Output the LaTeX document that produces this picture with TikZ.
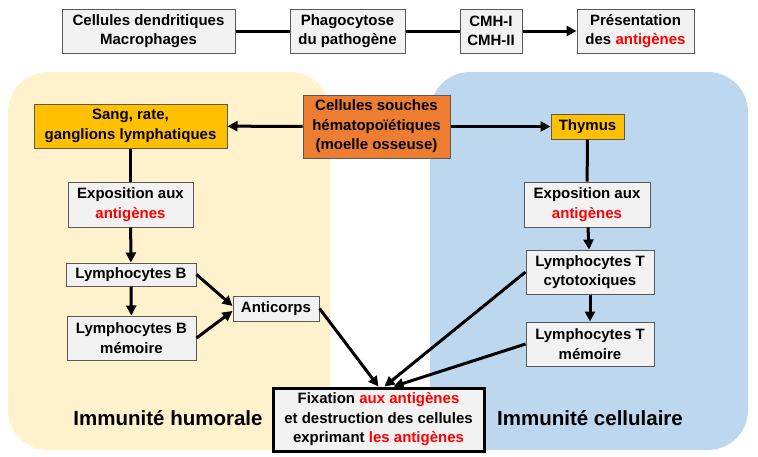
\documentclass[tikz,border=0pt]{standalone}
\usepackage{fontspec}
\setmainfont{Liberation Sans}
\usetikzlibrary{arrows.meta}
\definecolor{boxgrey}{HTML}{F2F2F2}
\definecolor{boxedge}{HTML}{595959}
\definecolor{organgold}{HTML}{FFC000}
\definecolor{stemorange}{HTML}{ED7D31}
\definecolor{humocream}{HTML}{FFF2CC}
\definecolor{cellblue}{HTML}{BDD7EE}
\definecolor{antired}{HTML}{FF0000}
\newcommand{\boxtext}{\fontsize{15}{19.5}\selectfont\bfseries}
\newcommand{\zonetext}{\fontsize{20.5}{24}\selectfont\bfseries}
\newcommand{\ag}[1]{\textcolor{antired}{#1}}

\begin{document}
\begin{tikzpicture}[x=1pt,y=-1pt,font=\boxtext,>={Triangle[length=10pt,width=10pt]},
  cellbox/.style={draw=boxedge,fill=boxgrey,line width=1pt,align=center,inner sep=0pt},
  organbox/.style={cellbox,fill=organgold},
  flow/.style={line width=3pt}]
\useasboundingbox (0,0) rectangle (758,456);

% zones
\fill[humocream,rounded corners=40pt] (8,72) rectangle (330,450);
\fill[cellblue,rounded corners=40pt] (430,72) rectangle (748,450);
\node (humo) at (168,418) {\zonetext Immunité humorale};
\node (cell) at (590,418) {\zonetext Immunité cellulaire};

% top row
\node[cellbox,minimum width=173pt,minimum height=44pt] (dc) at (148.5,31) {Cellules dendritiques\\Macrophages};
\node[cellbox,minimum width=115pt,minimum height=44pt] (phago) at (347.5,31) {Phagocytose\\du pathogène};
\node[cellbox,minimum width=62pt,minimum height=44pt] (cmh) at (491,31) {CMH-I\\CMH-II};
\node[cellbox,minimum width=117pt,minimum height=44pt] (pres) at (635.5,31) {Présentation\\des \ag{antigènes}};

% origin
\node[cellbox,fill=stemorange,minimum width=147pt,minimum height=63pt] (stem) at (376.5,126.5) {Cellules souches\\hématopoïétiques\\(moelle osseuse)};
\node[organbox,minimum width=193pt,minimum height=44pt] (sang) at (130.5,126) {Sang, rate,\\ganglions lymphatiques};
\node[organbox,minimum width=73pt,minimum height=25pt] (thy) at (587.5,126.5) {Thymus};

% humoral side
\node[cellbox,minimum width=125pt,minimum height=45pt] (expb) at (130.5,204.5) {Exposition aux\\\ag{antigènes}};
\node[cellbox,minimum width=130pt,minimum height=23pt] (lb) at (131,274.5) {Lymphocytes B};
\node[cellbox,minimum width=129pt,minimum height=44pt] (lbm) at (131.5,338) {Lymphocytes B\\mémoire};
\node[cellbox,minimum width=86pt,minimum height=25pt] (ac) at (276,308.5) {Anticorps};

% cellular side
\node[cellbox,minimum width=126pt,minimum height=45pt] (expt) at (587,204.5) {Exposition aux\\\ag{antigènes}};
\node[cellbox,minimum width=128pt,minimum height=44pt] (ltc) at (590,272) {Lymphocytes T\\cytotoxiques};
\node[cellbox,minimum width=128pt,minimum height=44pt] (ltm) at (590,344) {Lymphocytes T\\mémoire};

% outcome
\node[cellbox,draw=black,line width=3pt,minimum width=211pt,minimum height=63pt] (fix) at (378.5,419.5) {Fixation \ag{aux antigènes}\\et destruction des cellules\\exprimant \ag{les antigènes}};

\draw[flow] (dc) -- (phago);
\draw[flow] (phago) -- (cmh);
\draw[flow,->] (cmh) -- (pres);
\draw[flow,->] (stem) -- (sang);
\draw[flow,->] (stem) -- (thy);
\draw[flow] (sang) -- (expb);
\draw[flow,->] (expb) -- (lb);
\draw[flow,->] (lb) -- (lbm);
\draw[flow,->] (lb.east) -- ([yshift=2.5pt]ac.west);
\draw[flow,->] (lbm.east) -- ([yshift=-2.5pt]ac.west);
\draw[flow] (thy) -- (expt);
\draw[flow,->] (expt) -- (ltc);
\draw[flow,->] (ltc) -- (ltm);
\draw[flow,->] (ac.east) -- (fix.north);
\draw[flow,->] (ltc.west) -- ([xshift=6pt]fix.north);
\draw[flow,->] (ltm.west) -- ([xshift=15pt]fix.north);
\end{tikzpicture}
\end{document}
